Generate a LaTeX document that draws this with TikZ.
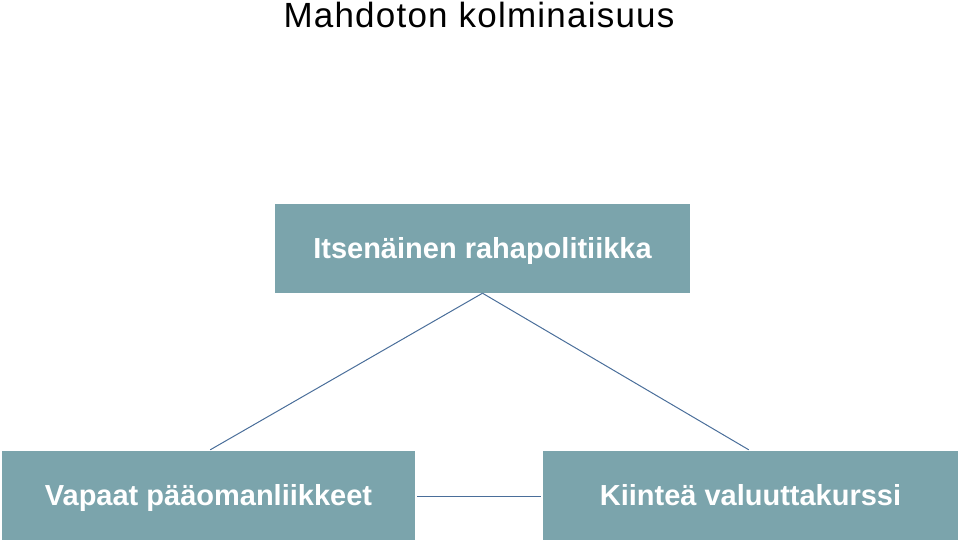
\documentclass[tikz,border=0pt]{standalone}
\usepackage{fontspec}
\setmainfont{Liberation Sans}
\definecolor{boxfill}{HTML}{7BA4AC}
\definecolor{linecol}{HTML}{4A6E9A}
\begin{document}
\begin{tikzpicture}[x=1pt,y=-1pt,
  box/.style={draw=none,fill=boxfill,minimum height=89pt,inner sep=0pt,text=white,
    text height=20.8pt,text depth=0pt,
    font=\fontsize{29}{34}\selectfont\bfseries},
  conn/.style={draw=linecol,line width=1pt}]
\useasboundingbox (0,0) rectangle (960,541);
\node[anchor=base,inner sep=0pt,font=\fontsize{35}{40}\selectfont\addfontfeatures{LetterSpace=3.5}] (title) at (479,27.5) {Mahdoton kolminaisuus};
\node[box,minimum width=415pt] (tb) at (482.5,248.5) {Itsenäinen rahapolitiikka};
\node[box,minimum width=413pt] (bl) at (208.5,495.5) {Vapaat pääomanliikkeet};
\node[box,minimum width=415pt] (br) at (750.5,495.5) {Kiinteä valuuttakurssi};
\draw[conn,shorten >=2pt] (tb.south) -- (bl.north);
\draw[conn,shorten >=2pt] (tb.south) -- (br.north);
\draw[conn,shorten <=2pt,shorten >=2pt] ([yshift=-1pt]bl.east) -- ([yshift=-1pt]br.west);
\end{tikzpicture}
\end{document}
